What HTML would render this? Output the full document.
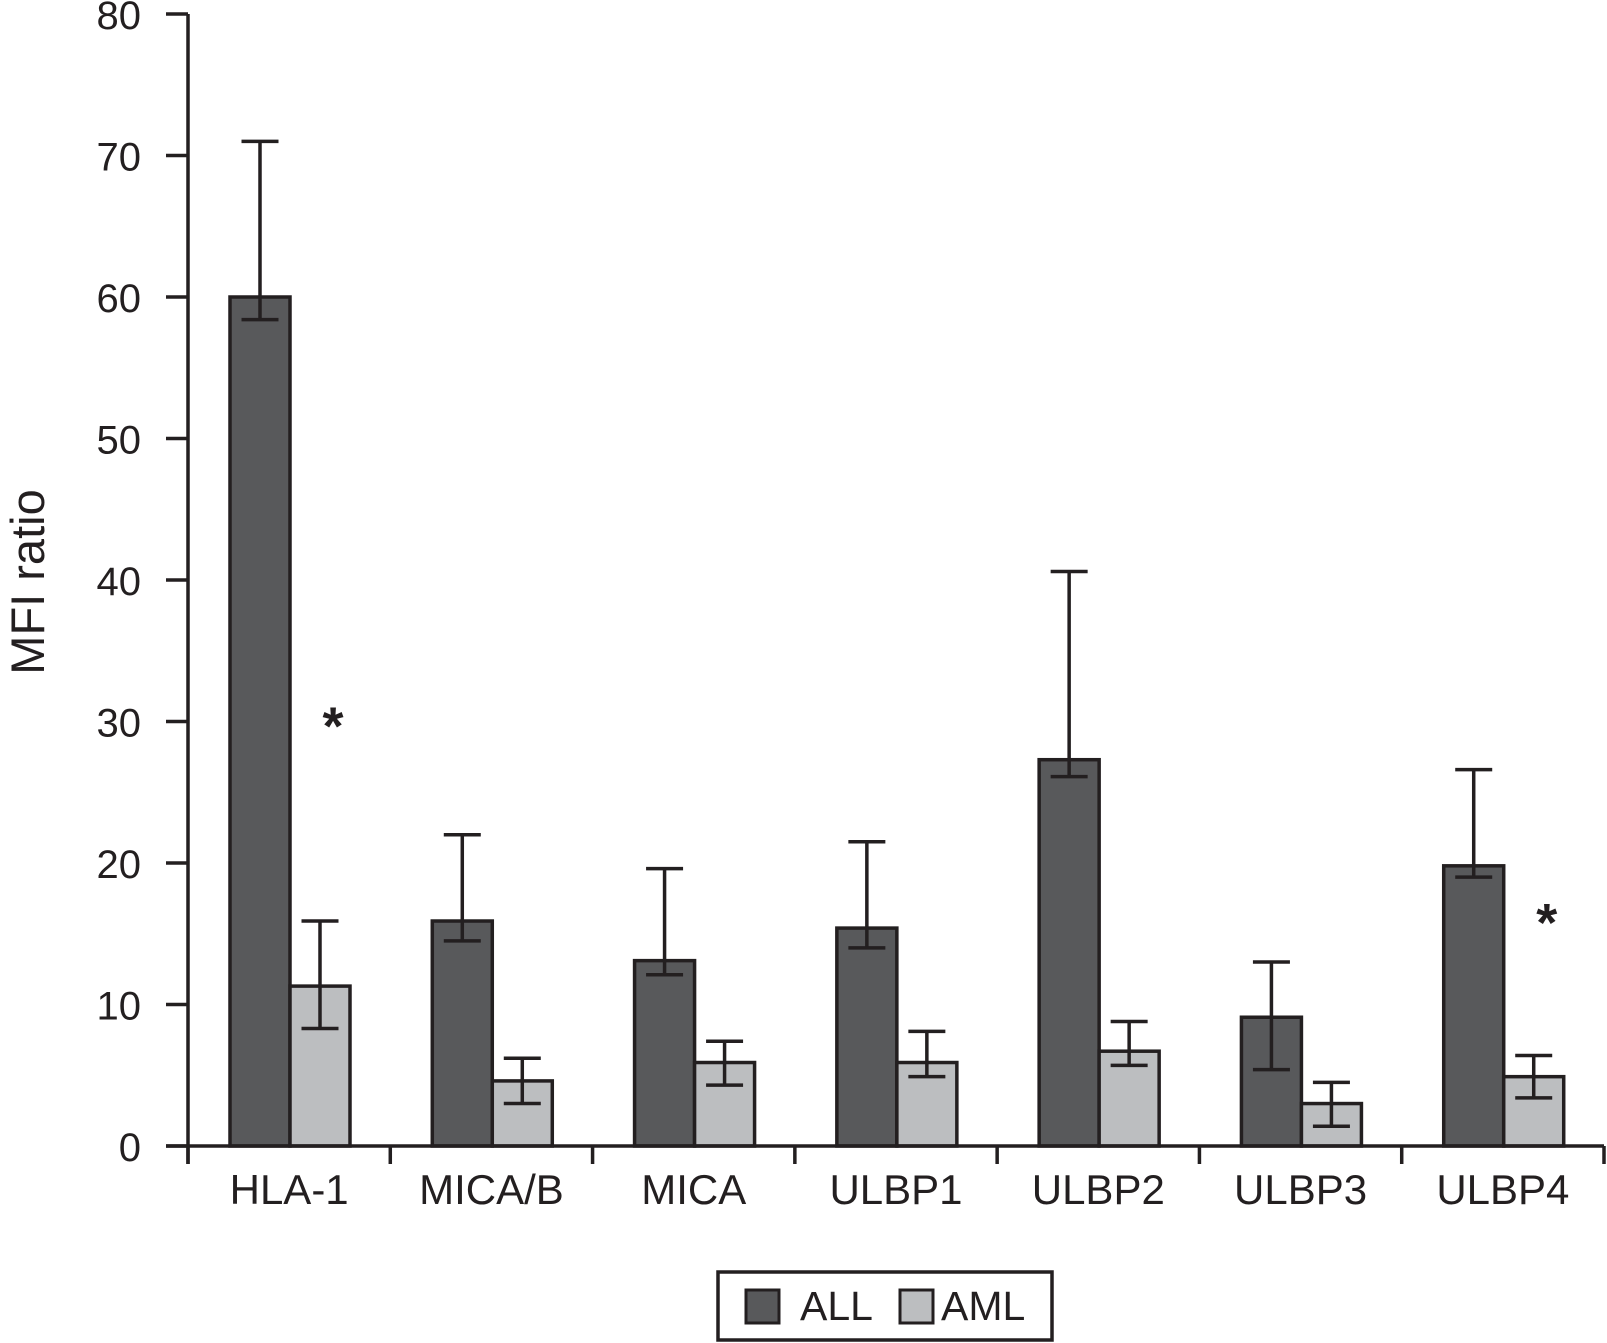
<!DOCTYPE html>
<html><head><meta charset="utf-8"><style>
html,body{margin:0;padding:0;background:#fff;}
svg{display:block;font-family:"Liberation Sans",Arial,sans-serif;}
</style></head><body>
<svg id="chart" width="1607" height="1343" viewBox="0 0 1607 1343" xmlns="http://www.w3.org/2000/svg"></svg>
<script>
const categories = ["HLA-1","MICA/B","MICA","ULBP1","ULBP2","ULBP3","ULBP4"];
const allValues = [60, 15.9, 13.1, 15.4, 27.3, 9.1, 19.8];
const allUpper = [71, 22, 19.6, 21.5, 40.6, 13, 26.6];
const allLower = [58.4, 14.5, 12.1, 14, 26.1, 5.4, 19];
const amlValues = [11.3, 4.6, 5.9, 5.9, 6.7, 3, 4.9];
const amlUpper = [15.9, 6.2, 7.4, 8.1, 8.8, 4.5, 6.4];
const amlLower = [8.3, 3, 4.3, 4.9, 5.7, 1.4, 3.4];
const yTicks = [0,10,20,30,40,50,60,70,80];
const significant = [0, 6];

const NS = "http://www.w3.org/2000/svg";
const svg = document.getElementById("chart");
const x0 = 188, x1 = 1604, yBase = 1146, yTop = 14, yMax = 80;
const band = (x1 - x0) / categories.length;
const y = v => yBase - (v / yMax) * (yBase - yTop);
const bx = i => x0 + i * band;
const barW = 60, gapL = 42;
const ink = "#231f20";
function el(tag, attrs, parent) {
  const e = document.createElementNS(NS, tag);
  for (const k in attrs) e.setAttribute(k, attrs[k]);
  (parent || svg).appendChild(e);
  return e;
}
categories.forEach((c, i) => {
  const xa = bx(i) + gapL, xb = xa + barW;
  const r1 = el("rect", {x: xa, y: y(allValues[i]), width: barW, height: yBase - y(allValues[i]), fill: "#58595b", stroke: ink, "stroke-width": 3.5});
  
  
  const r2 = el("rect", {x: xb, y: y(amlValues[i]), width: barW, height: yBase - y(amlValues[i]), fill: "#bcbec0", stroke: ink, "stroke-width": 3.5});
  
  
  [[xa + barW / 2, allUpper[i], allLower[i], 'all'], [xb + barW / 2, amlUpper[i], amlLower[i], 'aml']].forEach(([cx, hi, lo, s]) => {
    const g = el("g", {stroke: ink, "stroke-width": 3.5, fill: "none"});
    
    
    el("line", {x1: cx, x2: cx, y1: y(hi), y2: y(lo)}, g);
    el("line", {x1: cx - 18.5, x2: cx + 18.5, y1: y(hi), y2: y(hi)}, g);
    el("line", {x1: cx - 18.5, x2: cx + 18.5, y1: y(lo), y2: y(lo)}, g);
  });
  const t = el("text", {x: bx(i) + band / 2, y: 1204, "font-size": 42, "text-anchor": "middle", fill: ink});
  t.textContent = c;
  
  
});
significant.forEach(i => {
  const cx = bx(i) + gapL + barW * 1.5 + 13;
  const v = i === 0 ? 30.5 : 16.6;
  const t = el("text", {x: cx, y: y(v) + 30, "font-size": 54, "font-weight": "bold", "text-anchor": "middle", fill: ink});
  t.textContent = "*";
  
  
});
const ax = el("g", {stroke: ink, "stroke-width": 3.5, fill: "none"});


el("line", {x1: x0, x2: x0, y1: yTop, y2: yBase + 18}, ax);
el("line", {x1: 166, x2: x1, y1: yBase, y2: yBase}, ax);
yTicks.forEach(v => {
  el("line", {x1: 166, x2: x0, y1: y(v), y2: y(v)}, ax);
  const t = el("text", {x: 141, y: y(v) + 15, "font-size": 40, "text-anchor": "end", fill: ink});
  t.textContent = v;
  
  
});
for (let i = 0; i <= categories.length; i++) el("line", {x1: bx(i), x2: bx(i), y1: yBase, y2: yBase + 18}, ax);
const yt = el("text", {x: 0, y: 0, "font-size": 47, "text-anchor": "middle", fill: ink, transform: "translate(44,582) rotate(-90)"});
yt.textContent = "MFI ratio";


const lg = el("g", {});


el("rect", {x: 718, y: 1272, width: 334, height: 68, fill: "#fff", stroke: ink, "stroke-width": 3.5}, lg);
const s1 = el("rect", {x: 746, y: 1290, width: 33, height: 33, fill: "#58595b", stroke: ink, "stroke-width": 3}, lg);


const l1 = el("text", {x: 800, y: 1320, "font-size": 41, fill: ink}, lg);
l1.textContent = "ALL";


const s2 = el("rect", {x: 900, y: 1290, width: 33, height: 33, fill: "#bcbec0", stroke: ink, "stroke-width": 3}, lg);


const l2 = el("text", {x: 941, y: 1320, "font-size": 41, fill: ink}, lg);
l2.textContent = "AML";


</script>
</body></html>
